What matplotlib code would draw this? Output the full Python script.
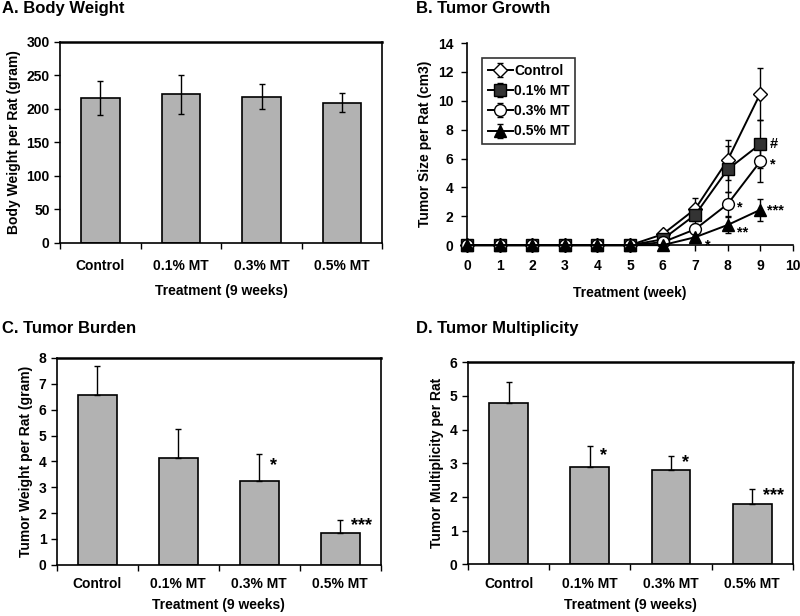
import numpy as np
import matplotlib
matplotlib.use("Agg")
import matplotlib.pyplot as plt

plt.rcParams["font.family"] = ["Liberation Sans", "DejaVu Sans"]
plt.rcParams["font.weight"] = "bold"
plt.rcParams["axes.labelweight"] = "bold"

groups = ["Control", "0.1% MT", "0.3% MT", "0.5% MT"]

# A. Body weight
body_weight = [216, 222, 218, 209]
body_weight_err = [25, 29, 19, 14]

# B. Tumor growth
weeks = [0, 1, 2, 3, 4, 5, 6, 7, 8, 9]
growth_control = [0, 0, 0, 0, 0, 0, 0.75, 2.5, 5.9, 10.5]
growth_control_err = [0, 0, 0, 0, 0, 0, 0.15, 0.8, 1.4, 1.8]
growth_01 = [0, 0, 0, 0, 0, 0, 0.4, 2.1, 5.25, 7.0]
growth_01_err = [0, 0, 0, 0, 0, 0, 0.1, 0.6, 1.6, 1.65]
growth_03 = [0, 0, 0, 0, 0, 0, 0.2, 1.1, 2.85, 5.8]
growth_03_err = [0, 0, 0, 0, 0, 0, 0.1, 0.35, 0.8, 1.45]
growth_05 = [0, 0, 0, 0, 0, 0, 0.0, 0.55, 1.4, 2.45]
growth_05_err = [0, 0, 0, 0, 0, 0, 0.0, 0.2, 0.55, 0.75]

# C. Tumor burden
burden = [6.55, 4.15, 3.25, 1.25]
burden_err = [1.15, 1.1, 1.05, 0.47]
burden_marks = ["", "", "*", "***"]

# D. Tumor multiplicity
multiplicity = [4.8, 2.9, 2.8, 1.8]
multiplicity_err = [0.6, 0.6, 0.4, 0.42]
multiplicity_marks = ["", "*", "*", "***"]

BAR_GRAY = "#b2b2b2"
FS = 10
TITLE_FS = 12

fig = plt.figure(figsize=(8, 6.16), dpi=100)


def bar_panel(rect, vals, errs, ylim, yticks, ylabel, upper_only, marks=None,
              tick_pad=12, label_pad=8):
    ax = fig.add_axes(rect)
    x = np.arange(len(vals))
    ax.bar(x, vals, width=0.48, color=BAR_GRAY, edgecolor="black", linewidth=1.2, zorder=2)
    if upper_only:
        yerr = [np.zeros(len(errs)), errs]
    else:
        yerr = errs
    ax.errorbar(x, vals, yerr=yerr, fmt="none", ecolor="black",
                elinewidth=1.0, capsize=2, capthick=1.0, zorder=3)
    if marks:
        for xi, v, e, m in zip(x, vals, errs, marks):
            if m:
                ax.text(xi + 0.13, v + e * 0.55, m, ha="left", va="center",
                        fontsize=13, fontweight="bold")
    ax.set_xlim(-0.5, len(vals) - 0.5)
    ax.set_ylim(*ylim)
    ax.set_yticks(yticks)
    ax.set_xticks(x)
    ax.set_xticklabels(groups, fontsize=FS, fontweight="bold")
    ax.set_xticks(np.arange(-0.5, len(vals), 1.0), minor=True)
    ax.tick_params(axis="x", which="major", length=0, pad=tick_pad)
    ax.tick_params(axis="x", which="minor", length=4, direction="out", width=1)
    ax.tick_params(axis="y", length=4, direction="out", width=1, labelsize=FS)
    for lab in ax.get_yticklabels():
        lab.set_fontweight("bold")
    for s in ax.spines.values():
        s.set_linewidth(1.2)
    ax.spines["top"].set_linewidth(1.8)
    ax.set_xlabel("Treatment (9 weeks)", fontsize=FS, fontweight="bold", labelpad=label_pad)
    ax.set_ylabel(ylabel, fontsize=FS, fontweight="bold", labelpad=4)
    return ax


# Panel A
bar_panel([0.075, 0.606, 0.403, 0.326], body_weight, body_weight_err,
          (0, 300), range(0, 301, 50), "Body Weight per Rat (gram)", False)
fig.text(0.003, 0.987, "A. Body Weight", fontsize=TITLE_FS, fontweight="bold", va="center")

# Panel B
axb = fig.add_axes([0.584, 0.602, 0.407, 0.328])
series = [
    ("Control", growth_control, growth_control_err, "D", "white", 7),
    ("0.1% MT", growth_01, growth_01_err, "s", "#333333", 8.5),
    ("0.3% MT", growth_03, growth_03_err, "o", "white", 8.5),
    ("0.5% MT", growth_05, growth_05_err, "^", "black", 8),
]
for label, vals, errs, mk, fc, ms in series:
    axb.errorbar(weeks, vals, yerr=errs, color="black", linewidth=1.4,
                 marker=mk, markerfacecolor=fc, markeredgecolor="black",
                 markersize=ms, markeredgewidth=1.0, elinewidth=1.0,
                 capsize=2, label=label, clip_on=False)
axb.set_xlim(0, 10)
axb.set_ylim(0, 14)
axb.set_xticks(range(0, 11))
axb.set_yticks(range(0, 15, 2))
axb.spines["top"].set_visible(False)
axb.spines["right"].set_visible(False)
for s in ["left", "bottom"]:
    axb.spines[s].set_linewidth(1.2)
axb.tick_params(length=4, direction="out", width=1, labelsize=FS, pad=6)
for lab in axb.get_xticklabels() + axb.get_yticklabels():
    lab.set_fontweight("bold")
axb.set_xlabel("Treatment (week)", fontsize=FS, fontweight="bold", labelpad=9)
axb.set_ylabel("Tumor Size per Rat (cm3)", fontsize=FS, fontweight="bold", labelpad=4)
handles, labels = axb.get_legend_handles_labels()
leg = axb.legend(handles, labels, loc="upper left", bbox_to_anchor=(0.025, 0.96),
                 frameon=True, fancybox=False, edgecolor="black",
                 handlelength=1.8, handletextpad=0.1, borderpad=0.4,
                 labelspacing=0.45, prop={"weight": "bold", "size": FS})
leg.get_frame().set_linewidth(1.2)
growth_marks = [(9.28, 7.0, "#"), (9.3, 5.6, "*"), (8.3, 2.6, "*"),
                (9.2, 2.4, "***"), (8.3, 0.85, "**"), (7.3, -0.05, "*")]
for gx, gy, m in growth_marks:
    axb.text(gx, gy, m, fontsize=10.5, fontweight="bold", va="center", ha="left")
fig.text(0.52, 0.987, "B. Tumor Growth", fontsize=TITLE_FS, fontweight="bold", va="center")

# Panel C
bar_panel([0.071, 0.083, 0.405, 0.336], burden, burden_err,
          (0, 8), range(0, 9), "Tumor Weight per Rat (gram)", True, burden_marks,
          tick_pad=9, label_pad=5)
fig.text(0.003, 0.466, "C. Tumor Burden", fontsize=TITLE_FS, fontweight="bold", va="center")

# Panel D
bar_panel([0.585, 0.084, 0.406, 0.328], multiplicity, multiplicity_err,
          (0, 6), range(0, 7), "Tumor Multiplicity per Rat", True, multiplicity_marks,
          tick_pad=9, label_pad=5)
fig.text(0.52, 0.466, "D. Tumor Multiplicity", fontsize=TITLE_FS, fontweight="bold", va="center")

fig.savefig("out.png", dpi=100)
